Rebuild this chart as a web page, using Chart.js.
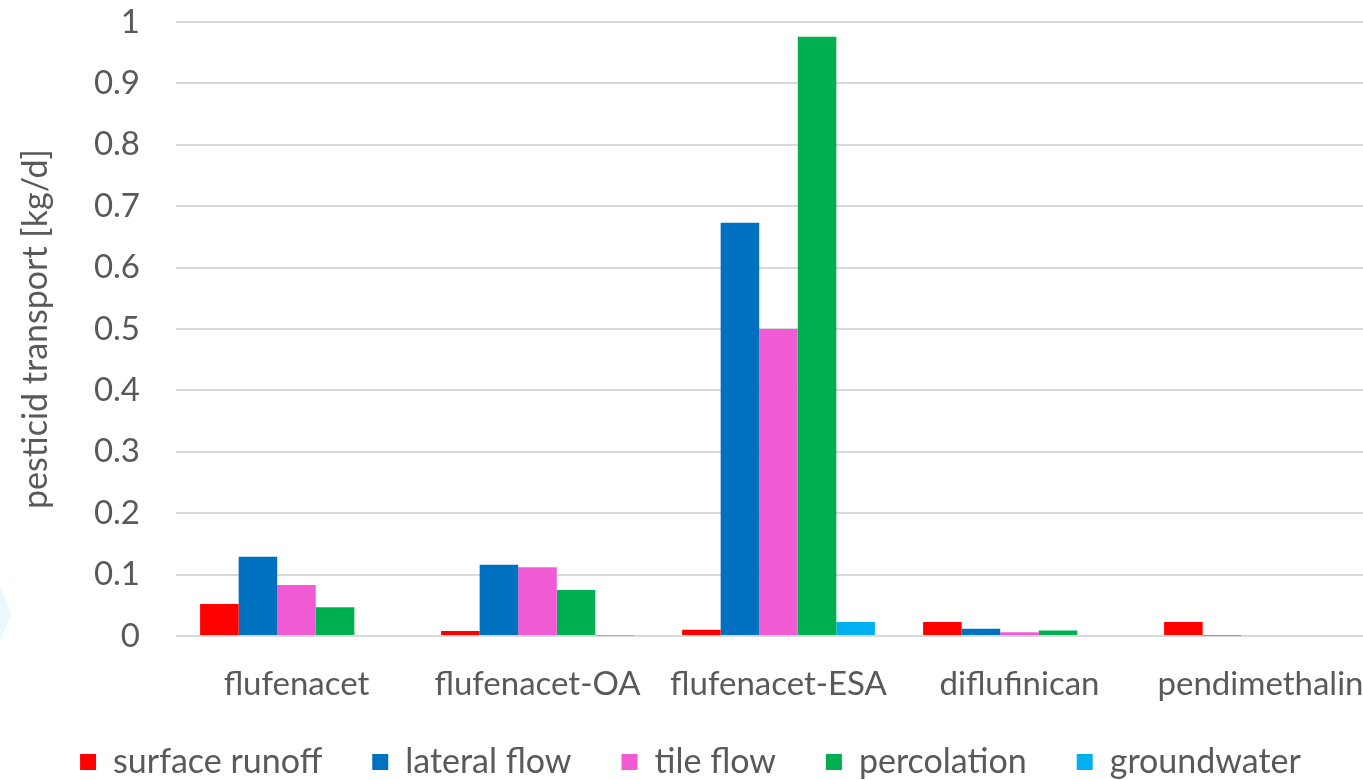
<!DOCTYPE html>
<html>
<head>
<meta charset="utf-8">
<script src="https://cdn.jsdelivr.net/npm/chart.js@4.4.1/dist/chart.umd.min.js"></script>
<style>
  html, body { margin: 0; padding: 0; background: #ffffff; overflow: hidden; }
  #view { width: 1363px; height: 780px; overflow: hidden; }
  #wrap { position: relative; width: 1404px; height: 798px; }
</style>
</head>
<body>
<div id="view"><div id="wrap"><canvas id="c"></canvas></div></div>
<script>
// Pesticide transport per pathway [kg/d]
const categories = ['flufenacet', 'flufenacet-OA', 'flufenacet-ESA', 'diflufinican', 'pendimethalin'];
const surfaceRunoff = [0.052, 0.008, 0.010, 0.023, 0.023];
const lateralFlow   = [0.129, 0.116, 0.673, 0.012, 0.001];
const tileFlow      = [0.083, 0.112, 0.500, 0.006, 0.000];
const percolation   = [0.047, 0.075, 0.976, 0.009, 0.000];
const groundwater   = [0.000, 0.001, 0.023, 0.000, 0.000];
const seriesNames   = ['surface runoff', 'lateral flow', 'tile flow', 'percolation', 'groundwater'];
const yTicks        = [0, 0.1, 0.2, 0.3, 0.4, 0.5, 0.6, 0.7, 0.8, 0.9, 1];

const colors = ['#FF0000', '#0070C0', '#F05BD4', '#00B050', '#00B0F0'];
const values = [surfaceRunoff, lateralFlow, tileFlow, percolation, groundwater];
const textColor = '#595959';
const fontFamily = 'Lato, "Open Sans", sans-serif';

// faint decorative mark at the left edge
const edgeMark = {
  id: 'edgeMark',
  beforeDraw(chart) {
    const ctx = chart.ctx;
    ctx.save();
    ctx.fillStyle = '#E9F8FA';
    ctx.beginPath();
    ctx.moveTo(0, 586);
    ctx.lineTo(11, 614);
    ctx.lineTo(0, 642);
    ctx.closePath();
    ctx.fill();
    ctx.restore();
  }
};

// pull the legend row a little closer to the category labels
const legendLift = {
  id: 'legendLift',
  afterLayout(chart) {
    chart.legend.top -= 9;
    chart.legend.bottom -= 9;
  }
};

new Chart(document.getElementById('c'), {
  type: 'bar',
  data: {
    labels: categories,
    datasets: seriesNames.map((name, i) => ({
      label: name,
      data: values[i],
      backgroundColor: colors[i],
      borderWidth: 0,
      categoryPercentage: 0.8,
      barPercentage: 1.0
    }))
  },
  options: {
    responsive: true,
    maintainAspectRatio: false,
    animation: false,
    layout: { padding: { top: 0, right: 23, bottom: 0, left: 0 } },
    plugins: {
      legend: {
        position: 'bottom',
        labels: {
          color: textColor,
          font: { family: fontFamily, size: 34 },
          boxWidth: 16,
          boxHeight: 16,
          padding: 50
        }
      },
      tooltip: { enabled: false }
    },
    scales: {
      x: {
        afterFit(s) { s.height = 68; },
        grid: { display: false, drawTicks: false, tickLength: 0 },
        border: { display: false },
        ticks: {
          color: textColor,
          font: { family: fontFamily, size: 33, lineHeight: 1 },
          padding: 32,
          maxRotation: 0,
          autoSkip: false
        }
      },
      y: {
        min: 0,
        max: 1,
        afterBuildTicks(axis) { axis.ticks = yTicks.map(v => ({ value: v })); },
        afterFit(s) { s.width = 176; s.paddingTop = 22; s.paddingBottom = 20; },
        grid: { color: '#D9D9D9', lineWidth: 2, drawTicks: false },
        border: { display: false },
        ticks: {
          color: textColor,
          font: { family: fontFamily, size: 33 },
          padding: 36,
          callback: v => String(+v.toFixed(1))
        },
        title: {
          display: true,
          text: 'pesticid transport [kg/d]',
          color: textColor,
          font: { family: fontFamily, size: 34 },
          padding: { top: 16, bottom: 34 }
        }
      }
    }
  },
  plugins: [edgeMark, legendLift]
});
</script>
</body>
</html>
